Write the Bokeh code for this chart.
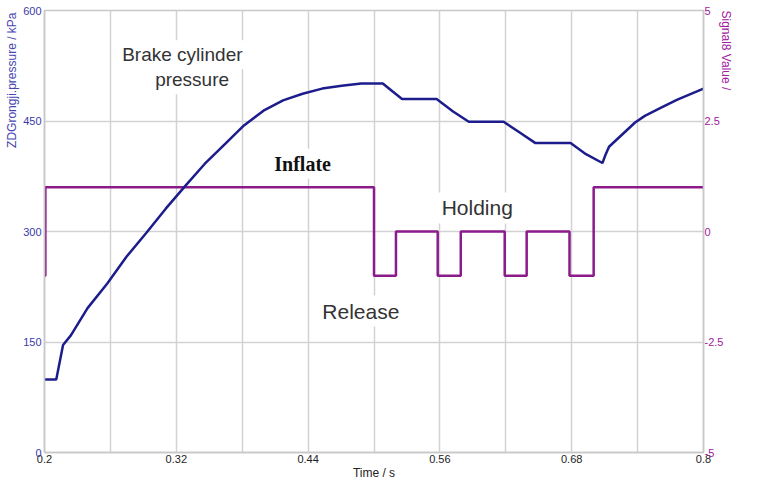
import math
from bokeh.plotting import figure
from bokeh.models import (Range1d, LinearAxis, FixedTicker, Label, Title, CustomJSTickFormatter)
from bokeh.embed import file_html
from bokeh.resources import INLINE

# ---- data ----
time_s = [0.200, 0.2107, 0.2169, 0.2240, 0.2392, 0.2570, 0.2748, 0.2926, 0.3104, 0.3282,
          0.3460, 0.3638, 0.3816, 0.3994, 0.4172, 0.4350, 0.4528, 0.4706, 0.4884, 0.508,
          0.5170, 0.5255, 0.557, 0.5720, 0.5863, 0.618, 0.6330, 0.647, 0.679, 0.693,
          0.708, 0.711, 0.714, 0.7377, 0.7466, 0.7614, 0.7762, 0.800]
pressure_kpa = [99, 99, 146, 159, 196, 229, 266, 298, 331, 362,
                392, 418, 444, 464, 478, 487, 494, 498, 501, 501,
                490, 480, 480, 463, 449, 449, 434, 420, 420, 405,
                393, 405, 415, 448, 457, 468, 479, 494]

sig_time = [0.200, 0.2008, 0.500, 0.520, 0.558, 0.579, 0.619, 0.639, 0.678, 0.700, 0.800]
sig_value = [-1, 1, -1, 0, -1, 0, -1, 0, -1, 1, 1]

x_ticks = [0.2, 0.32, 0.44, 0.56, 0.68, 0.8]
x_grid = [0.26, 0.32, 0.38, 0.44, 0.50, 0.56, 0.62, 0.68, 0.74]
y_ticks = [0, 150, 300, 450, 600]
sig_ticks = [-5, -2.5, 0, 2.5, 5]

PRES = "#1c1c8c"
SIG = "#8b1a8b"
GRID = "#d2d2d2"

p = figure(width=743, height=482, output_backend="svg", toolbar_location=None,
           x_range=Range1d(0.2, 0.8), y_range=Range1d(0, 600))
p.min_border_top = 10
p.min_border_left = 0
p.min_border_right = 0
p.min_border_bottom = 0
p.background_fill_color = "white"
p.outline_line_color = "#c8c8c8"
p.outline_line_width = 1.5

p.extra_y_ranges = {"sig": Range1d(-5, 5)}

p.xgrid.ticker = FixedTicker(ticks=x_grid)
p.ygrid.ticker = FixedTicker(ticks=y_ticks)
for g in (p.xgrid, p.ygrid):
    g.grid_line_color = GRID
    g.grid_line_width = 1.5

# x axis
xa = p.xaxis[0]
xa.ticker = FixedTicker(ticks=x_ticks)
xa.formatter = CustomJSTickFormatter(code="return String(Math.round(tick*100)/100);")
xa.axis_label = "Time / s"
xa.axis_label_text_font = "Liberation Sans"
xa.axis_label_text_font_style = "normal"
xa.axis_label_text_font_size = "12px"
xa.axis_label_text_color = "#222222"
xa.axis_label_standoff = 0
xa.major_label_text_font = "Liberation Sans"
xa.major_label_text_font_size = "11px"
xa.major_label_text_color = "#222222"
xa.major_label_standoff = 2

# left axis
ya = p.yaxis[0]
ya.ticker = FixedTicker(ticks=y_ticks)
ya.major_label_text_font = "Liberation Sans"
ya.major_label_text_font_size = "11px"
ya.major_label_text_color = "#3a3aaa"
ya.major_label_standoff = 3

# right axis
ra = LinearAxis(y_range_name="sig", ticker=FixedTicker(ticks=sig_ticks))
ra.formatter = CustomJSTickFormatter(code="return String(tick);")
ra.major_label_text_font = "Liberation Sans"
ra.major_label_text_font_size = "11px"
ra.major_label_text_color = "#a020a0"
ra.major_label_standoff = 1
ra.axis_label = "Signal8 Value /"
ra.axis_label_text_font = "Liberation Sans"
ra.axis_label_text_font_style = "normal"
ra.axis_label_text_font_size = "12px"
ra.axis_label_text_color = "#a020a0"
ra.axis_label_standoff = 0
ra.axis_label_orientation = -math.pi / 2
ra.axis_label_align = "end"
ra.axis_label_text_align = "right"
p.add_layout(ra, "right")

for ax in (xa, ya, ra):
    ax.axis_line_color = "#c8c8c8"
    ax.axis_line_width = 1.5
    ax.major_tick_out = 0
    ax.major_tick_in = 0
    ax.minor_tick_out = 0
    ax.minor_tick_in = 0

# left axis title as a side title, aligned to the top like the reference
p.add_layout(Title(text="ZDGrongji.pressure / kPa", align="right", text_font="Liberation Sans",
                   text_font_size="12px", text_font_style="normal", text_color="#4646b0",
                   standoff=4, offset=2), "left")

# lines
p.step(sig_time, sig_value, mode="after", y_range_name="sig", line_color=SIG, line_width=2.5)
p.line(time_s, pressure_kpa, line_color=PRES, line_width=2.5)

# annotations
def lab(x, y, text, font="Liberation Sans", size="21px", color="#333333", style="normal"):
    l = Label(x=x, y=y, text=text, text_align="center", text_baseline="middle",
              text_font=font, text_font_size=size, text_color=color, text_font_style=style,
              background_fill_color="white", padding=4)
    p.add_layout(l)

lab(0.3255, 540, "Brake cylinder", size="19px")
lab(0.3344, 506, "pressure", size="19px")
lab(0.435, 392, "Inflate", font="Liberation Serif", size="20px", color="#111111", style="bold")
lab(0.594, 332, "Holding")
lab(0.488, 192, "Release")

open("out.html", "w").write(file_html(p, INLINE))
